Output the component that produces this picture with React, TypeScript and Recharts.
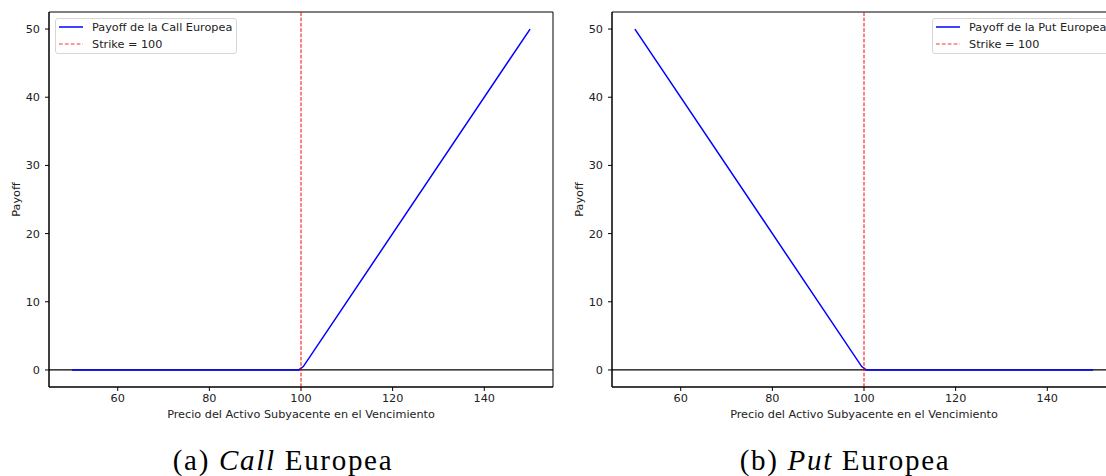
import {
  Label,
  Line,
  LineChart,
  ReferenceArea,
  ReferenceLine,
  XAxis,
  YAxis,
} from 'recharts';

// Values (price at expiry -> payoff).
const callPrices = [50, 99.5, 100.5, 150];
const callPayoff = [0, 0, 0.5, 50];
const putPrices = [50, 99.5, 100.5, 150];
const putPayoff = [50, 0.5, 0, 0];

const priceTicks = [60, 80, 100, 120, 140];
const payoffTicks = [0, 10, 20, 30, 40, 50];
const priceDomain: [number, number] = [45, 155];
const payoffDomain: [number, number] = [-2.5, 52.5];
const strike = 100;

const xLabel = 'Precio del Activo Subyacente en el Vencimiento';
const yLabel = 'Payoff';
const strikeLabel = `Strike = ${strike}`;

const BLUE = '#0000ff';
const RED = '#ff0000';
const INK = '#222';
const FONT = '"DejaVu Sans", sans-serif';
const FS = 11.25;

const callData = callPrices.map((price, i) => ({ price, payoff: callPayoff[i] }));
const putData = putPrices.map((price, i) => ({ price, payoff: putPayoff[i] }));

function LegendBox({ left, width, name }: { left: number; width: number; name: string }) {
  const row = (y: number, dashed: boolean, text: string) => (
    <div style={{ position: 'absolute', left: 0, top: y - 7, height: 14, display: 'flex', alignItems: 'center' }}>
      <svg width={30} height={14} style={{ marginLeft: 2 }}>
        <line
          x1={1}
          x2={25}
          y1={7}
          y2={7}
          stroke={dashed ? RED : BLUE}
          strokeWidth={dashed ? 1.2 : 1.5}
          strokeDasharray={dashed ? '3.7 2.2' : undefined}
          opacity={dashed ? 0.8 : 1}
        />
      </svg>
      <span style={{ marginLeft: 4, fontSize: FS, color: INK, whiteSpace: 'nowrap' }}>{text}</span>
    </div>
  );
  return (
    <div
      style={{
        position: 'absolute',
        left,
        top: 18,
        width,
        height: 36,
        border: '1px solid #d6d6d6',
        borderRadius: 3,
        background: 'rgba(255,255,255,0.8)',
        boxSizing: 'border-box',
      }}
    >
      {row(8, false, name)}
      {row(25, true, strikeLabel)}
    </div>
  );
}

function PayoffChart({ data }: { data: { price: number; payoff: number }[] }) {
  return (
    <LineChart width={560} height={440} data={data} margin={{ top: 12, right: 7, bottom: 19, left: 9 }}>
      <XAxis
        type="number"
        dataKey="price"
        domain={priceDomain}
        ticks={priceTicks}
        allowDataOverflow
        height={34}
        tickSize={4}
        tickMargin={3}
        axisLine={{ stroke: '#000' }}
        tickLine={{ stroke: '#000' }}
        tick={{ fill: INK, fontSize: FS, fontFamily: FONT }}
      >
        <Label value={xLabel} position="insideBottom" offset={3} fill={INK} fontSize={FS} fontFamily={FONT} />
      </XAxis>
      <YAxis
        type="number"
        domain={payoffDomain}
        ticks={payoffTicks}
        allowDataOverflow
        width={40}
        tickSize={4}
        tickMargin={5}
        axisLine={{ stroke: '#000' }}
        tickLine={{ stroke: '#000' }}
        tick={{ fill: INK, fontSize: FS, fontFamily: FONT }}
      >
        <Label
          content={() => (
            <text
              x={16}
              y={199.5}
              transform="rotate(-90 16 199.5)"
              textAnchor="middle"
              dominantBaseline="central"
              fill={INK}
              fontSize={FS}
              fontFamily={FONT}
            >
              {yLabel}
            </text>
          )}
        />
      </YAxis>
      <ReferenceArea
        x1={priceDomain[0]}
        x2={priceDomain[1]}
        y1={payoffDomain[0]}
        y2={payoffDomain[1]}
        fill="none"
        fillOpacity={0}
        stroke="#000"
        strokeWidth={1}
        ifOverflow="visible"
      />
      <ReferenceLine y={0} stroke="#000" strokeWidth={1.2} />
      <Line type="linear" dataKey="payoff" stroke={BLUE} strokeWidth={1.5} dot={false} isAnimationActive={false} />
      <ReferenceLine x={strike} stroke={RED} strokeWidth={1} strokeDasharray="3.7 1.6" />
    </LineChart>
  );
}

function Caption({ center, tag, word }: { center: number; tag: string; word: string }) {
  return (
    <div
      style={{
        position: 'absolute',
        left: center - 150,
        width: 300,
        top: 445,
        textAlign: 'center',
        fontFamily: '"Liberation Serif", serif',
        fontSize: 29,
        letterSpacing: 1.7,
        lineHeight: '30px',
        color: '#000',
        whiteSpace: 'nowrap',
      }}
    >
      {tag} <i>{word}</i> Europea
    </div>
  );
}

export default function App() {
  return (
    <div
      style={{
        position: 'absolute',
        left: 0,
        top: 0,
        width: 1106,
        height: 476,
        overflow: 'hidden',
        background: '#fff',
        fontFamily: FONT,
      }}
    >
      <div style={{ position: 'absolute', left: 0, top: 0 }}>
        <PayoffChart data={callData} />
        <LegendBox left={55} width={182} name="Payoff de la Call Europea" />
      </div>
      <div style={{ position: 'absolute', left: 563, top: 0 }}>
        <PayoffChart data={putData} />
        <LegendBox left={369} width={182} name="Payoff de la Put Europea" />
      </div>
      <Caption center={283} tag="(a)" word="Call" />
      <Caption center={845} tag="(b)" word="Put" />
    </div>
  );
}
